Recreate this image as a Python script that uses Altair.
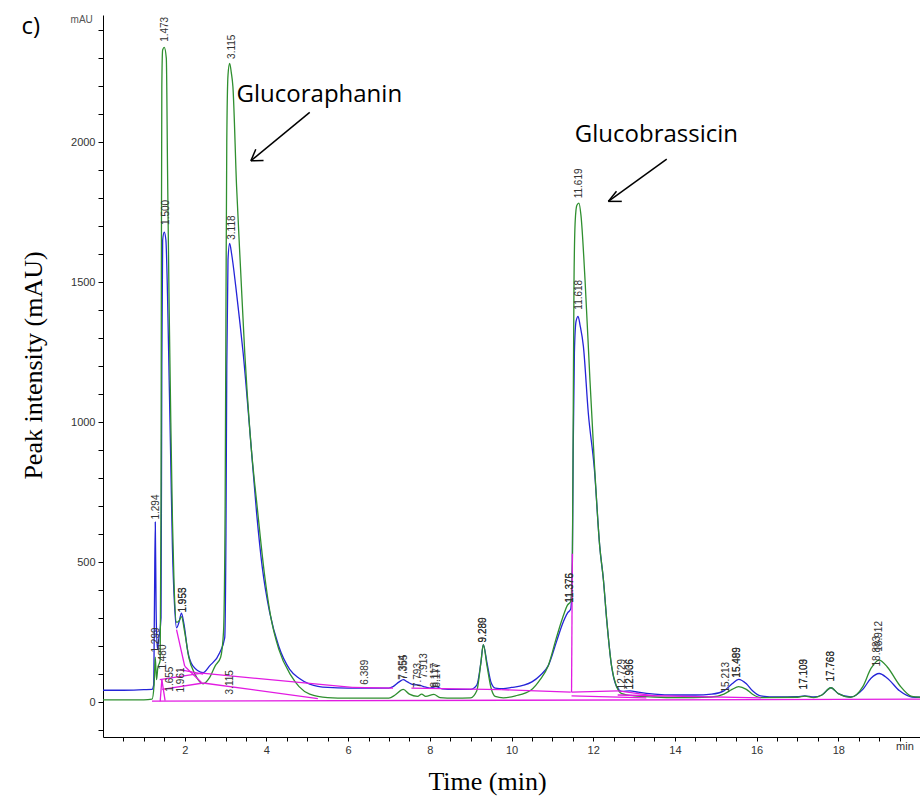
import altair as alt
import pandas as pd

# ---- traces (time in min, intensity in mAU) ----
blue_t = [0.0, 0.5, 1.0, 1.20, 1.24, 1.26, 1.28, 1.30, 1.33, 1.37, 1.42, 1.44, 1.46, 1.50, 1.54,
          1.58, 1.62, 1.66, 1.70, 1.75, 1.80, 1.86, 1.92, 1.98, 2.08, 2.20, 2.45, 2.61, 2.86,
          2.98, 3.01, 3.03, 3.06, 3.10, 3.15, 3.25, 3.34, 3.43, 3.60, 3.76, 3.90, 4.08, 4.30,
          4.57, 4.80, 5.06, 5.50, 6.00, 7.00, 7.10, 7.25, 7.35, 7.45, 7.60, 7.75, 7.85, 8.00,
          8.15, 8.30, 8.60, 9.00, 9.15, 9.25, 9.31, 9.40, 9.50, 9.60, 9.80, 10.0, 10.3, 10.5,
          10.7, 10.9, 11.1, 11.25, 11.37, 11.45, 11.49, 11.51, 11.54, 11.58, 11.63, 11.68,
          11.76, 11.88, 12.03, 12.16, 12.25, 12.33, 12.45, 12.57, 12.70, 12.90, 13.10,
          13.50, 14.0, 14.5, 14.9, 15.2, 15.4, 15.56, 15.75, 15.9, 16.1, 16.5, 17.0, 17.18,
          17.4, 17.6, 17.82, 18.0, 18.3, 18.6, 18.8, 19.0, 19.2, 19.5, 19.8, 20.0]
blue_v = [42, 42, 44, 45, 60, 350, 643, 330, 190, 230, 300, 1200, 1650, 1679, 1650,
          1450, 1150, 850, 550, 350, 265, 285, 318, 280, 177, 129, 105, 129, 177,
          230, 600, 1200, 1580, 1639, 1600, 1485, 1370, 1248, 960, 676, 480, 320, 200,
          117, 85, 64, 52, 50, 50, 55, 72, 80, 72, 62, 60, 55, 50,
          55, 47, 45, 45, 60, 140, 205, 140, 70, 50, 48, 52, 60, 72,
          95, 130, 215, 280, 318, 332, 500, 900, 1250, 1360, 1378, 1345,
          1271, 1033, 830, 556, 437, 295, 128, 56, 38, 40, 35,
          28, 25, 25, 28, 40, 65, 81, 65, 40, 22, 18, 19, 22,
          18, 25, 51, 30, 18, 45, 85, 102, 85, 40, 18, 17]

green_t = [0.0, 1.0, 1.20, 1.25, 1.28, 1.31, 1.34, 1.40, 1.42, 1.43, 1.44, 1.46, 1.50, 1.55,
           1.58, 1.62, 1.66, 1.70, 1.74, 1.80, 1.86, 1.92, 2.00, 2.10, 2.25, 2.45, 2.60, 2.75,
           2.88, 2.95, 2.99, 3.01, 3.03, 3.06, 3.10, 3.14, 3.18, 3.27, 3.37, 3.47, 3.60, 3.79,
           3.95, 4.10, 4.30, 4.60, 4.80, 5.06, 5.50, 6.00, 7.00, 7.15, 7.35, 7.50, 7.70, 7.80,
           7.90, 8.10, 8.25, 8.60, 9.00, 9.15, 9.25, 9.31, 9.40, 9.50, 9.60, 9.80, 10.1, 10.48,
           10.7, 10.9, 11.1, 11.25, 11.37, 11.45, 11.49, 11.51, 11.53, 11.56, 11.60, 11.65,
           11.70, 11.80, 11.92, 12.03, 12.16, 12.25, 12.33, 12.45, 12.57, 12.70, 13.0,
           13.5, 14.0, 14.9, 15.2, 15.4, 15.56, 15.75, 15.9, 16.1, 17.0, 17.18, 17.4, 17.6,
           17.82, 18.0, 18.3, 18.6, 18.8, 19.0, 19.2, 19.5, 19.8, 20.0]
green_v = [8, 8, 10, 60, 160, 80, 120, 150, 700, 1600, 2200, 2330, 2339, 2300,
           1900, 1400, 1000, 650, 420, 285, 290, 305, 250, 160, 100, 65, 85, 130,
           160, 250, 700, 1400, 2000, 2240, 2282, 2250, 2199, 1842, 1540, 1248, 960, 675,
           460, 310, 190, 95, 55, 28, 16, 14, 14, 25, 45, 28, 20, 28,
           20, 27, 16, 14, 15, 40, 140, 205, 130, 50, 20, 15, 22, 43,
           80, 130, 230, 300, 346, 360, 500, 1000, 1500, 1720, 1775, 1783,
           1740, 1509, 1152, 850, 556, 437, 295, 128, 56, 30, 22,
           18, 16, 18, 28, 45, 55, 45, 28, 16, 17, 21, 16, 25,
           51, 30, 17, 55, 120, 150, 125, 60, 20, 17]

# ---- integration baselines (magenta segments) ----
pink_t1 = [1.20, 2.42, 2.45, 1.39, 1.45, 1.80, 2.00, 1.88, 6.10, 7.55, 9.75, 11.47, 11.47, 11.47, 12.62, 12.60, 1.40, 1.44]
pink_v1 = [3, 103, 68, 80, 45, 259, 128, 116, 52, 50, 44, 35, 35, 22, 40, 25, 3, 80]
pink_t2 = [20.0, 6.10, 5.26, 2.42, 2.45, 2.00, 2.41, 2.45, 7.10, 9.75, 11.45, 11.49, 12.62, 13.30, 13.50, 16.10, 1.44, 1.52]
pink_v2 = [10, 52, 12, 103, 68, 128, 70, 100, 50, 44, 35, 530, 40, 15, 22, 15, 80, 5]

# ---- peak labels ----
label_text = ["1.473", "3.115", "1.500", "3.118", "11.619", "11.618", "1.294", "1.953", "1.955",
              "1.299", "1.480", "1.655", "1.961", "3.115", "6.389", "7.354", "7.355", "7.793",
              "7.913", "8.177", "8.117", "9.280", "9.289", "11.376", "11.375", "12.729", "12.936",
              "12.906", "15.213", "15.489", "15.499", "17.103", "17.109", "17.763", "17.768",
              "18.912", "18.883"]
label_t = [1.51, 3.15, 1.55, 3.17, 11.66, 11.66, 1.29, 1.96, 1.96,
           1.29, 1.47, 1.63, 1.92, 3.10, 6.41, 7.35, 7.36, 7.72,
           7.86, 8.17, 8.13, 9.31, 9.31, 11.43, 11.43, 12.70, 12.90,
           12.90, 15.25, 15.53, 15.53, 17.16, 17.17, 17.82, 17.82,
           18.99, 18.95]
label_v = [2359, 2298, 1705, 1652, 1800, 1402, 652, 320, 320,
           177, 116, 37, 34, 27, 62, 80, 80, 50,
           85, 52, 52, 213, 213, 355, 355, 45, 45,
           45, 34, 87, 87, 45, 45, 73, 73,
           180, 127]

# ---- annotations ----
ann_text = ["Glucoraphanin", "Glucobrassicin"]
ann_t = [3.27, 11.55]
ann_v = [2170, 2027]

arrow_t1 = [5.06, 3.62, 3.62, 13.80, 12.37, 12.37]
arrow_v1 = [2107, 1934, 1934, 1940, 1789, 1789]
arrow_t2 = [3.62, 3.93, 3.74, 12.37, 12.70, 12.57]
arrow_v2 = [1934, 1935, 1975, 1789, 1789, 1825]

x_ticks = [i * 0.5 for i in range(1, 40)]
y_ticks = list(range(-100, 2401, 100))

blue_df = pd.DataFrame({"t": blue_t, "v": blue_v})
green_df = pd.DataFrame({"t": green_t, "v": green_v})
pink_df = pd.DataFrame({"t": pink_t1, "v": pink_v1, "t2": pink_t2, "v2": pink_v2})
lab_df = pd.DataFrame({"t": label_t, "v": label_v, "txt": label_text})
ann_df = pd.DataFrame({"t": ann_t, "v": ann_v, "txt": ann_text})
arr_df = pd.DataFrame({"t": arrow_t1, "v": arrow_v1, "t2": arrow_t2, "v2": arrow_v2})
extra_df = pd.DataFrame({"t": [-0.25, -1.77, 19.63], "v": [2437, 2412, -140],
                         "txt": ["mAU", "c)", "min"], "kind": ["small", "big", "axis"]})

xscale = alt.Scale(domain=[0, 20], nice=False, zero=False)
yscale = alt.Scale(domain=[-125, 2455], nice=False, zero=False)

xaxis = alt.Axis(values=x_ticks, labelExpr="(round(datum.value * 2) % 4 == 0) ? format(datum.value, 'd') : ''",
                 grid=False, domainColor="black", tickColor="black", tickSize=4,
                 labelOverlap=False, labelBound=False, labelFlush=False,
                 labelColor="#333", labelFont="Liberation Sans", labelFontSize=11, labelPadding=3,
                 title="Time (min)", titleFont="Liberation Serif", titleFontSize=26,
                 titleFontWeight="normal", titleColor="black", titleX=384, titleY=44,
                 titleBaseline="middle", titleAlign="center")
yaxis = alt.Axis(values=y_ticks, labelExpr="datum.value % 500 == 0 ? datum.label : ''",
                 format="d", grid=False, domainColor="black", tickColor="black", tickSize=5,
                 labelOverlap=False, labelBound=False, labelFlush=False,
                 labelColor="#333", labelFont="Liberation Sans", labelFontSize=11, labelPadding=3,
                 title="Peak intensity (mAU)", titleFont="Liberation Serif", titleFontSize=26,
                 titleFontWeight="normal", titleColor="black", titleX=-70, titleY=350,
                 titleBaseline="middle", titleAlign="center", titleAngle=270)


def X(f="t"):
    return alt.X(f, type="quantitative", scale=xscale, axis=xaxis)


def Y(f="v"):
    return alt.Y(f, type="quantitative", scale=yscale, axis=yaxis)


blue = alt.Chart(blue_df).mark_line(color="#2424d8", strokeWidth=1.3, interpolate="monotone").encode(x=X(), y=Y())
green = alt.Chart(green_df).mark_line(color="#2f8f2f", strokeWidth=1.3, interpolate="monotone").encode(x=X(), y=Y())
pink = alt.Chart(pink_df).mark_rule(color="#e21be2", strokeWidth=1.3).encode(
    x=X(), y=Y(), x2="t2:Q", y2="v2:Q")
labels = alt.Chart(lab_df).mark_text(angle=270, align="left", baseline="middle", fontSize=10,
                                     font="Liberation Sans", color="#333").encode(
    x=X(), y=Y(), text="txt:N")
ann = alt.Chart(ann_df).mark_text(align="left", baseline="middle", fontSize=24,
                                  font="Open Sans", color="black").encode(x=X(), y=Y(), text="txt:N")
arrows = alt.Chart(arr_df).mark_rule(color="black", strokeWidth=1.5).encode(
    x=X(), y=Y(), x2="t2:Q", y2="v2:Q")
small = alt.Chart(extra_df).transform_filter("datum.kind == 'small'").mark_text(
    align="right", baseline="middle", fontSize=10, font="Liberation Sans", color="#555", clip=False).encode(
    x=X(), y=Y(), text="txt:N")
big = alt.Chart(extra_df).transform_filter("datum.kind == 'big'").mark_text(
    align="center", baseline="middle", fontSize=24, font="Open Sans", color="black", clip=False).encode(
    x=X(), y=Y(), text="txt:N")
axl = alt.Chart(extra_df).transform_filter("datum.kind == 'axis'").mark_text(
    align="center", baseline="top", fontSize=11, font="Liberation Sans", color="#333", clip=False).encode(
    x=X(), y=Y(), text="txt:N")

chart = alt.layer(blue, green, pink, labels, ann, arrows, small, big, axl).properties(
    width=817, height=722, autosize="none",
    padding={"left": 103, "top": 15, "right": 0, "bottom": 62},
    background="white",
).configure_view(stroke=None)

chart.save("out.html", embed_options={"renderer": "svg", "actions": False})
